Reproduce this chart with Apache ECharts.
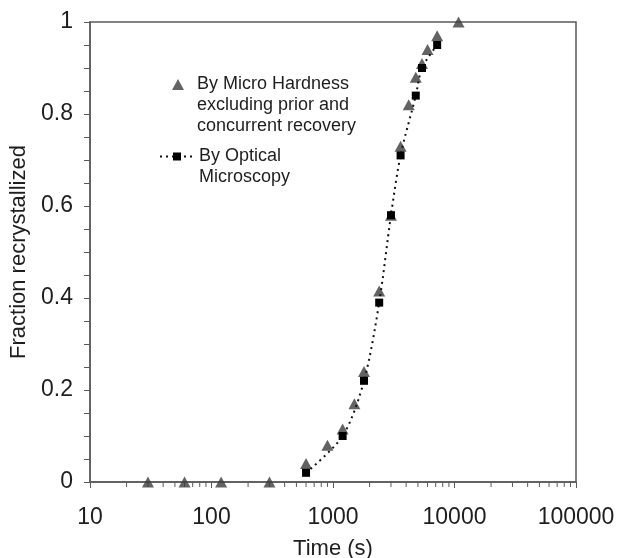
<!DOCTYPE html>
<html>
<head>
<meta charset="utf-8">
<script src="https://cdn.jsdelivr.net/npm/echarts@6/dist/echarts.min.js"></script>
<style>
html,body{margin:0;padding:0;background:#fff;}
#chart{width:618px;height:558px;}
</style>
</head>
<body>
<div id="chart"></div>
<script>
// Data
var hardnessTime = [30, 60, 120, 300, 600, 900, 1200, 1500, 1800, 2400, 3000, 3600, 4200, 4800, 5400, 6000, 7200, 10800];
var hardnessFrac = [0, 0, 0, 0, 0.04, 0.08, 0.115, 0.17, 0.24, 0.415, 0.58, 0.73, 0.82, 0.88, 0.91, 0.94, 0.97, 1.0];
var opticalTime = [600, 1200, 1800, 2400, 3000, 3600, 4800, 5400, 7200];
var opticalFrac = [0.02, 0.10, 0.22, 0.39, 0.58, 0.71, 0.84, 0.90, 0.95];
var xTickLabels = ['10', '100', '1000', '10000', '100000'];
var yTickLabels = ['0', '0.2', '0.4', '0.6', '0.8', '1'];
var xMinorTicks = [];
[10, 100, 1000, 10000].forEach(function (d) { for (var k = 2; k <= 9; k++) xMinorTicks.push(d * k); });

var hardName = 'By Micro Hardness\nexcluding prior and\nconcurrent recovery';
var optName = 'By Optical\nMicroscopy';

function zip(a, b) { return a.map(function (v, i) { return [v, b[i]]; }); }

var FONT = '"Liberation Sans", Arial, Helvetica, sans-serif';
var AXIS = '#5a5a5a';
var TXT = '#1e1e1e';

var chart = echarts.init(document.getElementById('chart'));
chart.setOption({
  animation: false,
  backgroundColor: '#fff',
  textStyle: { fontFamily: FONT },
  grid: {
    left: 90, right: 42, top: 22, bottom: 76, containLabel: false, outerBoundsMode: 'none',
    show: true, borderColor: AXIS, borderWidth: 1.5
  },
  legend: [
    {
      data: [{ name: hardName, icon: 'triangle', textStyle: { padding: [0, 0, 0, 8] } }],
      formatter: function (n) { return '\n\n' + n; },
      left: 167, top: 27, itemWidth: 12, itemHeight: 11,
      itemStyle: { color: '#3c3c3c' },
      textStyle: { fontSize: 18, lineHeight: 21, color: TXT, fontFamily: FONT }
    },
    {
      data: [{ name: optName }],
      formatter: function (n) { return '\n' + n; },
      left: 154, top: 120, itemWidth: 34, itemHeight: 10,
      textStyle: { fontSize: 18, lineHeight: 21, color: TXT, fontFamily: FONT }
    }
  ],
  xAxis: {
    type: 'log', logBase: 10, min: 10, max: 100000,
    name: 'Time (s)', nameLocation: 'middle', nameGap: 56,
    nameTextStyle: { fontSize: 22, color: TXT, fontFamily: FONT },
    axisLine: { show: true, lineStyle: { color: AXIS, width: 1.5 } },
    axisTick: { show: true, inside: false, length: 6, lineStyle: { color: AXIS } },
    axisLabel: {
      fontSize: 23, color: TXT, margin: 24, fontFamily: FONT,
      formatter: function (v) { var s = String(Math.round(v)); return xTickLabels.indexOf(s) >= 0 ? s : ''; }
    },
    splitLine: { show: false }
  },
  yAxis: {
    type: 'value', min: 0, max: 1, interval: 0.2,
    name: 'Fraction recrystallized', nameLocation: 'middle', nameGap: 60,
    nameTextStyle: { fontSize: 22, color: TXT, fontFamily: FONT },
    axisLine: { show: true, lineStyle: { color: AXIS, width: 1.5 } },
    axisTick: { show: true, inside: false, length: 6, lineStyle: { color: AXIS } },
    minorTick: { show: true, splitNumber: 4, length: 6, lineStyle: { color: AXIS } },
    axisLabel: {
      fontSize: 23, color: TXT, margin: 17, fontFamily: FONT,
      formatter: function (v) { var s = String(Math.round(v * 10) / 10); return yTickLabels.indexOf(s) >= 0 ? s : ''; }
    },
    splitLine: { show: false }
  },
  series: [
    {
      type: 'custom', name: 'minorTicks', silent: true, clip: false, z: 1,
      data: xMinorTicks.map(function (v) { return [v, 0]; }),
      renderItem: function (params, api) {
        var p = api.coord([api.value(0), 0]);
        return { type: 'line', shape: { x1: p[0], y1: p[1], x2: p[0], y2: p[1] + 5 }, style: { stroke: AXIS, lineWidth: 1 } };
      }
    },
    {
      type: 'scatter', name: hardName, data: zip(hardnessTime, hardnessFrac),
      symbol: 'triangle', symbolSize: [12, 11],
      itemStyle: { color: '#3c3c3c' }, z: 3
    },
    {
      type: 'line', name: optName, data: zip(opticalTime, opticalFrac),
      smooth: 0.3, symbol: 'rect', symbolSize: 8, showSymbol: true,
      lineStyle: { color: '#111', width: 2, type: [2, 4] },
      itemStyle: { color: '#000' }, z: 4
    }
  ]
});
</script>
</body>
</html>
